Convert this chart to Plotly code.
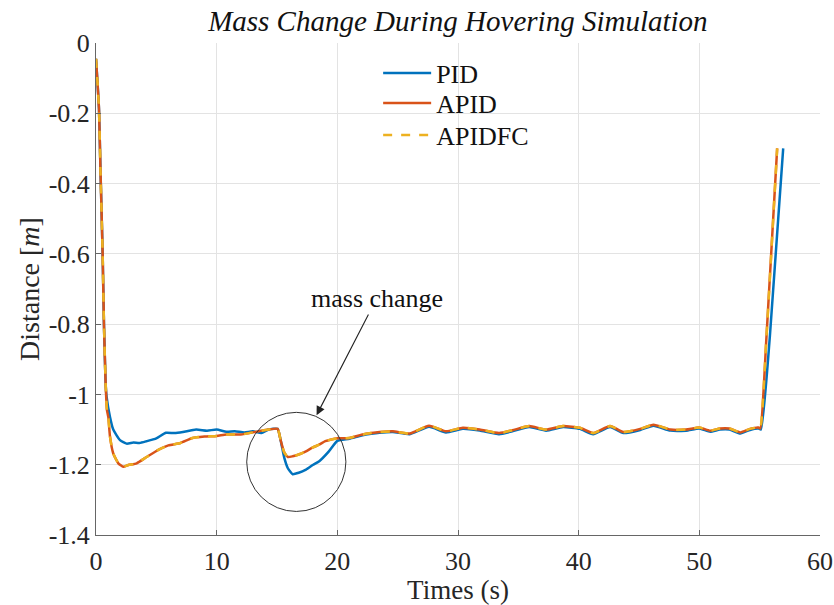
import plotly.graph_objects as go

# ---------------- data ----------------
t_pid = [0.0, 0.12, 0.25, 0.37, 0.55, 0.66, 0.80, 0.88, 1.16, 1.43, 1.99, 2.54, 3.1, 3.6, 4.2, 5.0,
         5.8, 6.5, 7.2, 8.3, 9.2, 10.0, 10.8, 11.5, 12.3, 13.0, 13.7, 14.3, 15.05, 15.3, 15.6, 15.9,
         16.3, 16.8, 17.4, 18.0, 18.5, 19.3, 20.0, 21.0, 22.0, 22.8, 23.5, 24.6, 26.0, 27.6, 29.0,
         30.4, 31.8, 33.4, 34.5, 35.9, 37.3, 38.7, 40.1, 41.2, 42.6, 43.7, 45.1, 46.2, 47.6, 48.9,
         50.0, 50.9, 51.7, 52.5, 53.4, 54.2, 54.9, 55.1, 55.85, 56.95]
y_pid = [-0.045, -0.11, -0.19, -0.36, -0.60, -0.80, -0.97, -1.007, -1.064, -1.10, -1.13, -1.14,
         -1.137, -1.138, -1.133, -1.125, -1.109, -1.11, -1.107, -1.10, -1.103, -1.10, -1.106,
         -1.105, -1.108, -1.105, -1.11, -1.10, -1.098, -1.13, -1.18, -1.21, -1.227, -1.223,
         -1.214, -1.20, -1.19, -1.162, -1.132, -1.126, -1.117, -1.112, -1.109, -1.107, -1.113,
         -1.092, -1.108, -1.098, -1.103, -1.113, -1.105, -1.093, -1.103, -1.093, -1.098, -1.113,
         -1.093, -1.110, -1.101, -1.089, -1.103, -1.103, -1.097, -1.106, -1.100, -1.100, -1.111,
         -1.101, -1.097, -1.10, -0.833, -0.30]

t_apid = [0.0, 0.12, 0.25, 0.37, 0.55, 0.66, 0.80, 0.91, 1.02, 1.16, 1.43, 1.85, 2.26, 2.68, 3.37,
          4.2, 5.2, 6.0, 7.0, 8.0, 9.0, 10.0, 10.8, 12.0, 13.3, 14.3, 15.05, 15.3, 15.6, 15.9, 16.3,
          16.8, 17.4, 17.9, 18.5, 19.0, 19.5, 20.0, 21.0, 22.0, 22.8, 23.5, 24.6, 26.0, 27.6, 29.0,
          30.4, 31.8, 33.4, 34.5, 35.9, 37.3, 38.7, 40.1, 41.2, 42.6, 43.7, 45.1, 46.2, 47.6, 48.9,
          50.0, 50.9, 51.7, 52.5, 53.4, 54.2, 54.9, 55.05, 55.57, 56.45]
y_apid = [-0.045, -0.11, -0.19, -0.36, -0.60, -0.80, -0.97, -1.045, -1.064, -1.12, -1.168, -1.196,
          -1.206, -1.201, -1.196, -1.178, -1.157, -1.145, -1.138, -1.124, -1.12, -1.118, -1.114,
          -1.114, -1.106, -1.10, -1.098, -1.13, -1.165, -1.178, -1.176, -1.171, -1.162, -1.152,
          -1.143, -1.133, -1.128, -1.125, -1.124, -1.115, -1.110, -1.107, -1.105, -1.111, -1.089,
          -1.105, -1.095, -1.100, -1.110, -1.102, -1.090, -1.100, -1.090, -1.095, -1.110, -1.090,
          -1.107, -1.098, -1.086, -1.100, -1.100, -1.094, -1.103, -1.097, -1.097, -1.108, -1.098,
          -1.094, -1.097, -0.833, -0.30]

t_apidfc = list(t_apid)
y_apidfc = list(y_apid)

x_ticks = [0, 10, 20, 30, 40, 50, 60]
y_ticks = [0, -0.2, -0.4, -0.6, -0.8, -1, -1.2, -1.4]
y_tick_labels = ["0", "-0.2", "-0.4", "-0.6", "-0.8", "-1", "-1.2", "-1.4"]

FONT = "Liberation Serif, Times New Roman, serif"
TXT = "#262626"

fig = go.Figure()
fig.add_trace(go.Scatter(x=t_pid, y=y_pid, mode="lines", name="PID", legend="legend",
                         line=dict(color="#0072BD", width=2.5, shape="spline", smoothing=0.5)))
fig.add_trace(go.Scatter(x=t_apid, y=y_apid, mode="lines", name="APID", legend="legend2",
                         line=dict(color="#D95319", width=2.5, shape="spline", smoothing=0.5)))
fig.add_trace(go.Scatter(x=t_apidfc, y=y_apidfc, mode="lines", name="APIDFC", legend="legend3",
                         line=dict(color="#EDB120", width=2.5, dash="dash",
                                   shape="spline", smoothing=0.5)))

# circle highlighting the mass change
fig.add_shape(type="circle", xref="x", yref="y", x0=12.49, x1=20.71, y0=-1.333, y1=-1.051,
              line=dict(color="#333333", width=1))

fig.add_annotation(x=18.28, y=-1.059, ax=23.26, ay=-0.727, axref="x", ayref="y",
                   xref="x", yref="y", text="mass change", showarrow=True,
                   arrowhead=2, arrowsize=1.6, arrowwidth=1.1, arrowcolor="#222222",
                   font=dict(family=FONT, size=26, color="#111111"))

leg_common = dict(x=0.3897, xanchor="left", yanchor="middle", bgcolor="rgba(0,0,0,0)",
                  font=dict(family=FONT, size=26, color="#111111"), borderwidth=0,
                  itemwidth=48)

fig.update_layout(
    width=834, height=605,
    margin=dict(l=96, r=14, t=43, b=70),
    paper_bgcolor="white", plot_bgcolor="white",
    font=dict(family=FONT, size=26, color=TXT),
    title=dict(text="Mass Change During Hovering Simulation", x=0.549, xanchor="center",
               y=0.966, yanchor="middle",
               font=dict(family=FONT, size=29, color="#111111", style="italic")),
    showlegend=True,
    legend=dict(y=0.939, **leg_common),
    legend2=dict(y=0.878, **leg_common),
    legend3=dict(y=0.813, **leg_common),
    xaxis=dict(range=[0, 60], tickvals=x_ticks, showgrid=True, gridcolor="#e3e3e3",
               zeroline=False, showline=True, linecolor="#666666", linewidth=1,
               ticks="inside", ticklen=5, tickcolor="#666666", ticklabelstandoff=3,
               automargin=False,
               title=dict(text="Times (s)", standoff=5, font=dict(size=27))),
    yaxis=dict(range=[-1.4, 0], tickvals=y_ticks, ticktext=y_tick_labels, showgrid=True,
               gridcolor="#e3e3e3", zeroline=False, showline=True, linecolor="#666666",
               linewidth=1, ticks="inside", ticklen=5, tickcolor="#666666",
               ticklabelstandoff=0, automargin=False,
               title=dict(text="Distance [<i>m</i>]", standoff=0, font=dict(size=28))),
)

fig.write_html("out.html")
